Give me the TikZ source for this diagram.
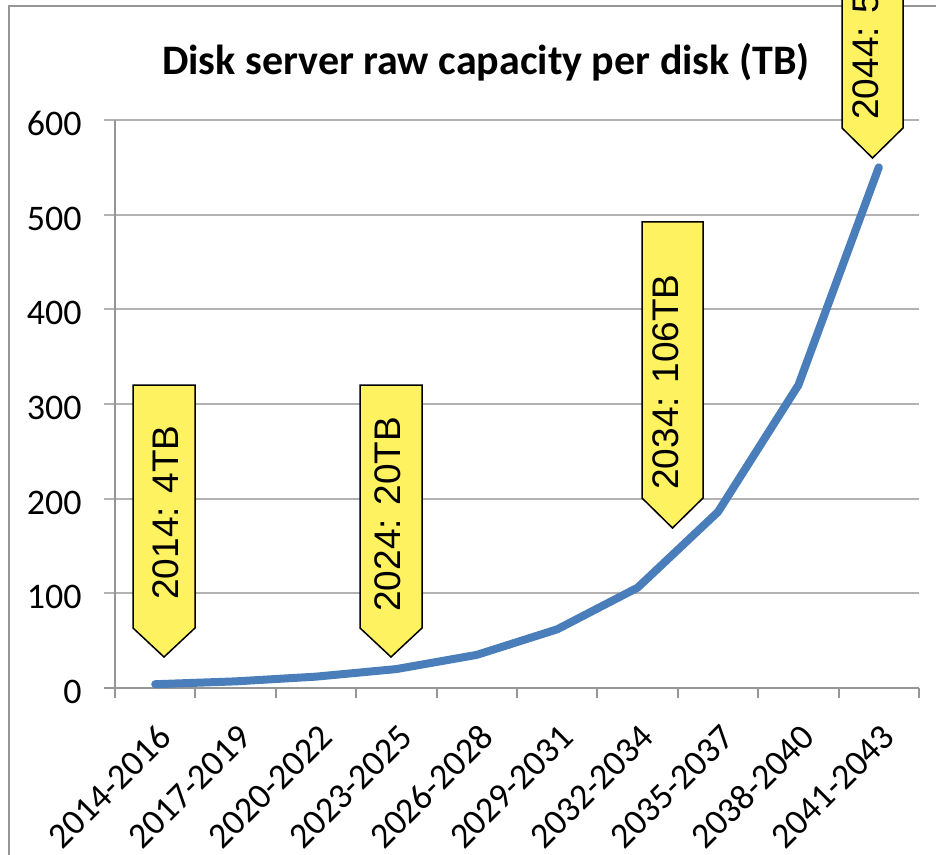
\documentclass[tikz,border=0pt]{standalone}
\usepackage{fontspec}
\setmainfont{Carlito}
\newfontfamily\arialfont{Liberation Sans}
\usetikzlibrary{positioning}
\definecolor{chartBlue}{RGB}{74,126,187}
\definecolor{calloutYellow}{RGB}{255,242,97}
\definecolor{gridGray}{RGB}{178,178,178}
\definecolor{axisGray}{RGB}{150,150,150}

\begin{document}
\begin{tikzpicture}[
        x=0.5pt, y=-0.5pt,
        frame/.style={draw=axisGray, line width=1pt},
        gridline/.style={draw=gridGray, line width=1pt},
        axisline/.style={draw=axisGray, line width=1pt},
        charttitle/.style={font=\bfseries\fontsize{21}{24}\selectfont, inner sep=0pt},
        ylabel/.style={anchor=east, font=\fontsize{18}{20}\selectfont, inner sep=0pt},
        xlabel/.style={anchor=east, rotate=45, font=\fontsize{18}{20}\selectfont, inner sep=0pt},
        callout/.style={draw=black, fill=calloutYellow, line width=0.75pt},
        callouttext/.style={anchor=west, rotate=90, font=\arialfont\fontsize{18.5}{20}\selectfont, inner sep=0pt},
        series/.style={draw=chartBlue, line width=4pt, line cap=round, line join=round}
    ]
        \useasboundingbox (0,0) rectangle (936,855);
        \clip (0,0) rectangle (936,855);

        % Frame and title
        \draw[frame] (9,870) |- (950,6);
        \node[charttitle] (title) at (486,62) {Disk server raw capacity per disk (TB)};

        % Gridlines and value axis
        \foreach \v [count=\i from 0] in {0,100,...,600} {
            \draw[gridline] (104,{688-0.9467*\v}) -- (919,{688-0.9467*\v});
            \node[ylabel] (ylab\i) at (82,{692-0.9467*\v}) {\v};
        }
        \draw[axisline] (104,688) -- (919,688);
        \draw[axisline] (115,120) -- (115,698);
        \foreach \k in {0,...,10}
            \draw[axisline] ({115+80.4*\k},688) -- ({115+80.4*\k},698);

        % Category axis
        \foreach \lab [count=\k from 0] in {2014-2016,2017-2019,2020-2022,2023-2025,2026-2028,2029-2031,2032-2034,2035-2037,2038-2040,2041-2043}
            \node[xlabel] (xlab\k) at ({165.2+80.4*\k},731) {\lab};

        % Series
        \foreach \v [count=\k from 0] in {4,7,12,20,35,62,106,186,320,550}
            \coordinate (p\k) at ({155.2+80.4*\k},{688-0.9467*\v});
        \draw[series] (p0) -- (p1) -- (p2) -- (p3) -- (p4) -- (p5) -- (p6) -- (p7) -- (p8) -- (p9);

        % Callouts
        \draw[callout] (133,385) -- (195,385) -- (195,628) -- (164,657) -- (133,628) -- cycle;
        \node[callouttext] (note2014) at (166,600) {2014: 4TB};

        \draw[callout] (360,385) -- (422,385) -- (422,628) -- (391,657) -- (360,628) -- cycle;
        \node[callouttext] (note2024) at (388,612) {2024: 20TB};

        \draw[callout] (642,222) -- (703,222) -- (703,498) -- (672.5,528) -- (642,498) -- cycle;
        \node[callouttext] (note2034) at (666,490) {2034: 106TB};

        \draw[callout] (842,-20) -- (903,-20) -- (903,128) -- (872.5,158) -- (842,128) -- cycle;
        \node[callouttext] (note2044) at (866,120) {2044: 5};

    \end{tikzpicture}
\end{document}
